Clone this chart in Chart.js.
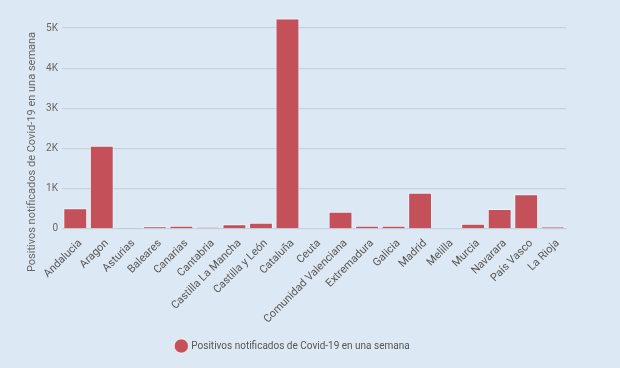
<!DOCTYPE html>
<html>
<head>
<meta charset="utf-8">
<script src="https://cdn.jsdelivr.net/npm/chart.js@4"></script>
<style>
  html,body{margin:0;padding:0;background:#dce9f5;}
  #wrap{width:620px;height:368px;position:relative;}
</style>
</head>
<body>
<div id="wrap"><canvas id="c" width="620" height="368"></canvas></div>
<script>
const regiones = ['Andalucia','Aragon','Asturias','Baleares','Canarias','Cantabria','Castilla La Mancha','Castilla y León','Cataluña','Ceuta','Comunidad Valenciana','Extremadura','Galicia','Madrid','Melilla','Murcia','Navarara','País Vasco','La Rioja'];
const positivos = [512, 2072, 25, 65, 80, 40, 115, 150, 5240, 0, 430, 80, 80, 900, 0, 130, 495, 860, 55];
const serieNombre = 'Positivos notificados de Covid-19 en una semana';
const tickLabels = {0:'0',1000:'1K',2000:'2K',3000:'3K',4000:'4K',5000:'5K'};

Chart.defaults.font.family = 'Roboto, "Noto Sans", sans-serif';

// y-axis title sits lower than the plot's centre in the original, so draw it by hand
const yTitle = {
  id: 'yTitle',
  afterDraw(chart) {
    const ctx = chart.ctx;
    ctx.save();
    ctx.translate(32, 152);
    ctx.rotate(-Math.PI / 2);
    ctx.fillStyle = '#666';
    ctx.font = '11px Roboto, "Noto Sans", sans-serif';
    ctx.textAlign = 'center';
    ctx.textBaseline = 'middle';
    ctx.fillText(serieNombre, 0, 0);
    ctx.restore();
  }
};

new Chart(document.getElementById('c'), {
  type: 'bar',
  data: { labels: regiones, datasets: [{
    label: serieNombre, data: positivos,
    backgroundColor: '#c4505a', borderColor: 'rgba(255,255,255,0.6)', borderWidth: 1,
    barPercentage: 0.9, categoryPercentage: 1
  }]},
  options: {
    responsive: false, animation: false,
    layout: { padding: { top: 4, right: 54, left: 20, bottom: 7 } },
    plugins: {
      legend: { position: 'bottom', labels: { usePointStyle: true, pointStyle: 'circle', boxWidth: 12, boxHeight: 12, color: '#555', font: { size: 10 }, padding: 15 } },
      tooltip: { enabled: false }
    },
    scales: {
      x: { grid: { display: false }, border: { display: true, color: '#c5d3e0' },
           ticks: { color: '#555', font: { size: 11 }, maxRotation: 45, minRotation: 45, autoSkip: false, padding: 0, labelOffset: 5 } },
      y: { min: 0, max: 5450, border: { display: false },
           afterFit: ax => { ax.width = 42; },
           grid: { color: '#c5d3e0', lineWidth: 1.2, drawTicks: false },
           afterBuildTicks: ax => { ax.ticks = Object.keys(tickLabels).map(v => ({ value: +v })); },
           ticks: { color: '#666', font: { size: 10 }, padding: 4, callback: v => tickLabels[v] } }
    }
  },
  plugins: [yTitle]
});
</script>
</body>
</html>
